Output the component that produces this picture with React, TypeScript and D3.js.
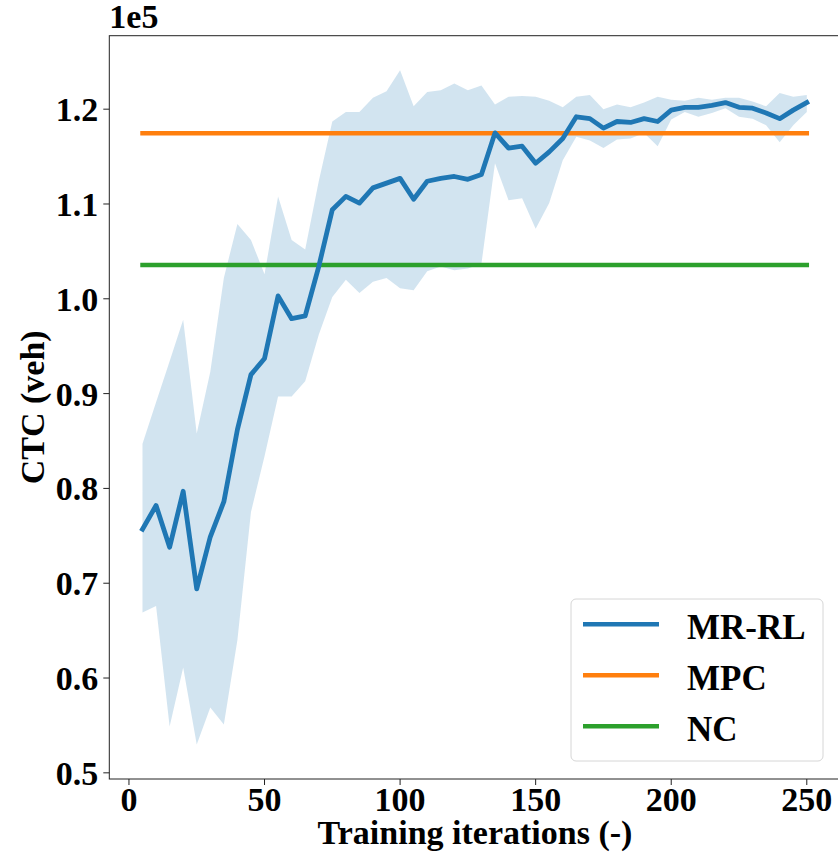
import React from "react";
import * as d3 from "d3";

// Training curve of MR-RL vs. the MPC and NC baselines (values in 1e5 veh)
const iterations = [
  5, 10, 15, 20, 25, 30, 35, 40, 45, 50, 55, 60, 65, 70, 75, 80, 85, 90, 95, 100,
  105, 110, 115, 120, 125, 130, 135, 140, 145, 150, 155, 160, 165, 170, 175, 180,
  185, 190, 195, 200, 205, 210, 215, 220, 225, 230, 235, 240, 245, 250,
];

const mrrlMean = [
  0.757, 0.782, 0.738, 0.797, 0.694, 0.749, 0.786, 0.862, 0.92, 0.937, 1.003,
  0.979, 0.982, 1.034, 1.094, 1.108, 1.101, 1.117, 1.122, 1.127, 1.105, 1.124,
  1.127, 1.129, 1.126, 1.131, 1.175, 1.159, 1.161, 1.143, 1.155, 1.169, 1.192,
  1.19, 1.18, 1.187, 1.186, 1.19, 1.187, 1.199, 1.202, 1.202, 1.204, 1.207,
  1.202, 1.201, 1.196, 1.19, 1.199, 1.207,
];

const mrrlUpper = [
  0.847, 0.891, 0.934, 0.978, 0.858, 0.923, 1.022, 1.079, 1.062, 1.026, 1.108,
  1.062, 1.052, 1.124, 1.187, 1.197, 1.197, 1.212, 1.219, 1.241, 1.203, 1.218,
  1.22, 1.227, 1.22, 1.225, 1.205, 1.213, 1.214, 1.213, 1.209, 1.202, 1.213,
  1.215, 1.2, 1.205, 1.202, 1.207, 1.213, 1.21, 1.209, 1.212, 1.21, 1.212,
  1.212, 1.208, 1.203, 1.217, 1.213, 1.215,
];

const mrrlLower = [
  0.669, 0.676, 0.549, 0.611, 0.53, 0.569, 0.551, 0.64, 0.775, 0.834, 0.897,
  0.897, 0.913, 0.962, 1.002, 1.02, 1.006, 1.018, 1.022, 1.011, 1.009, 1.029,
  1.034, 1.03, 1.032, 1.037, 1.143, 1.104, 1.106, 1.074, 1.101, 1.146, 1.171,
  1.167, 1.159, 1.168, 1.169, 1.175, 1.161, 1.189, 1.197, 1.192, 1.196, 1.201,
  1.192, 1.19, 1.183, 1.165, 1.183, 1.197,
];

const mpcValue = 1.1747;
const ncValue = 1.0357;

const xTicks = [0, 50, 100, 150, 200, 250];
const yTicks = [0.5, 0.6, 0.7, 0.8, 0.9, 1.0, 1.1, 1.2];

const legendItems = [
  { label: "MR-RL", color: "#1f77b4" },
  { label: "MPC", color: "#ff7f0e" },
  { label: "NC", color: "#2ca02c" },
];

const width = 838;
const height = 857;
const plot = { left: 109.3, right: 840, top: 35.7, bottom: 779 };
const font = "'Liberation Serif', 'Times New Roman', serif";

export default function App() {
  const x = d3.scaleLinear().domain([-7.25, 262.25]).range([plot.left, plot.right]);
  const y = d3.scaleLinear().domain([0.4935, 1.2775]).range([plot.bottom, plot.top]);

  const rows = iterations.map((it, i) => ({
    it,
    mean: mrrlMean[i],
    lo: mrrlLower[i],
    hi: mrrlUpper[i],
  }));

  const band = d3
    .area<any>()
    .x((d) => x(d.it))
    .y0((d) => y(d.lo))
    .y1((d) => y(d.hi))(rows);

  const meanLine = d3
    .line<any>()
    .x((d) => x(d.it))
    .y((d) => y(d.mean))(rows);

  const first = iterations[0];
  const last = iterations[iterations.length - 1];

  return (
    <div style={{ position: "fixed", left: 0, top: 0 }}>
      <svg width={width} height={height} style={{ display: "block", background: "#fff" }}>
        {/* uncertainty band */}
        <path d={band || ""} fill="#1f77b4" fillOpacity={0.2} stroke="none" />

        {/* baselines */}
        <line
          x1={x(first)}
          x2={x(last)}
          y1={y(mpcValue)}
          y2={y(mpcValue)}
          stroke="#ff7f0e"
          strokeWidth={4.5}
          strokeLinecap="square"
        />
        <line
          x1={x(first)}
          x2={x(last)}
          y1={y(ncValue)}
          y2={y(ncValue)}
          stroke="#2ca02c"
          strokeWidth={4.5}
          strokeLinecap="square"
        />

        {/* mean curve */}
        <path
          d={meanLine || ""}
          fill="none"
          stroke="#1f77b4"
          strokeWidth={4.8}
          strokeLinejoin="round"
          strokeLinecap="square"
        />

        {/* frame */}
        <rect
          x={plot.left}
          y={plot.top}
          width={plot.right - plot.left}
          height={plot.bottom - plot.top}
          fill="none"
          stroke="#222"
          strokeWidth={1}
        />

        {/* x axis */}
        {xTicks.map((t) => (
          <g key={"x" + t}>
            <line x1={x(t)} x2={x(t)} y1={plot.bottom} y2={plot.bottom + 6} stroke="#222" />
            <text
              x={x(t)}
              y={811}
              textAnchor="middle"
              fontFamily={font}
              fontWeight="bold"
              fontSize={34}
              fill="#000"
            >
              {t}
            </text>
          </g>
        ))}

        {/* y axis */}
        {yTicks.map((t) => (
          <g key={"y" + t}>
            <line x1={plot.left - 6} x2={plot.left} y1={y(t)} y2={y(t)} stroke="#222" />
            <text
              x={plot.left - 11}
              y={y(t) + 12}
              textAnchor="end"
              fontFamily={font}
              fontWeight="bold"
              fontSize={34}
              fill="#000"
            >
              {t.toFixed(1)}
            </text>
          </g>
        ))}

        <text x={plot.left} y={28} fontFamily={font} fontWeight="bold" fontSize={34} fill="#000">
          1e5
        </text>

        <text
          x={475}
          y={844}
          textAnchor="middle"
          fontFamily={font}
          fontWeight="bold"
          fontSize={34}
          fill="#000"
        >
          Training iterations (-)
        </text>

        <text
          transform={`translate(44,${(plot.top + plot.bottom) / 2}) rotate(-90)`}
          textAnchor="middle"
          fontFamily={font}
          fontWeight="bold"
          fontSize={34}
          fill="#000"
        >
          CTC (veh)
        </text>

        {/* legend */}
        <g>
          <rect
            x={571}
            y={599}
            width={252}
            height={162}
            rx={5}
            fill="#fff"
            fillOpacity={0.8}
            stroke="#d6d6d6"
            strokeWidth={1}
          />
          {legendItems.map((item, i) => (
            <g key={item.label} transform={`translate(0,${624.3 + i * 51})`}>
              <line x1={583} x2={659} y1={0} y2={0} stroke={item.color} strokeWidth={4.5} />
              <text
                x={687}
                y={15}
                fontFamily={font}
                fontWeight="bold"
                fontSize={35}
                fill="#000"
              >
                {item.label}
              </text>
            </g>
          ))}
        </g>
      </svg>
    </div>
  );
}
